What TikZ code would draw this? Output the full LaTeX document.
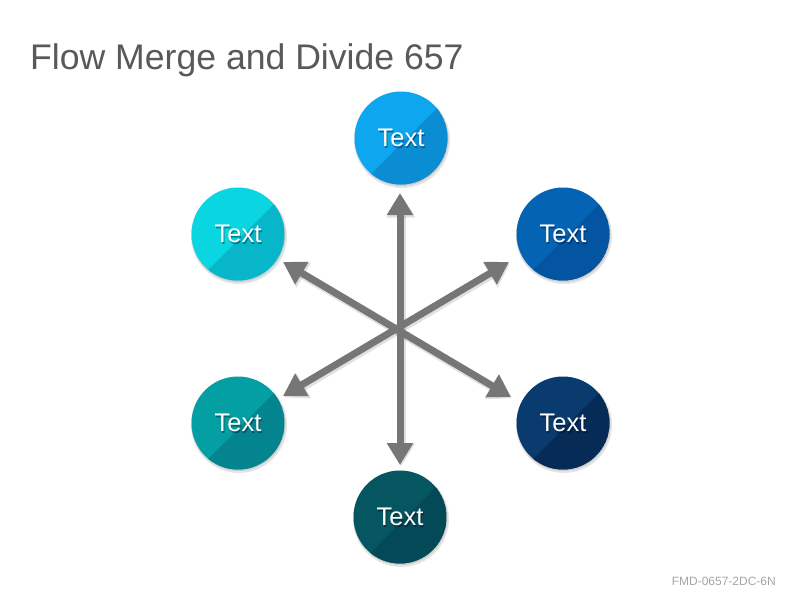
\documentclass[tikz,border=0pt]{standalone}
\usepackage{fontspec}
\setmainfont{Liberation Sans}
\usetikzlibrary{arrows.meta}
\definecolor{titlegray}{HTML}{595959}
\definecolor{footgray}{HTML}{A6A6A6}
\definecolor{arrgray}{HTML}{767676}
\definecolor{cAl}{HTML}{0EA6EE}\definecolor{cAd}{HTML}{0A8DD3}
\definecolor{cBl}{HTML}{0AD6E1}\definecolor{cBd}{HTML}{07B7C9}
\definecolor{cCl}{HTML}{0563B4}\definecolor{cCd}{HTML}{0455A1}
\definecolor{cDl}{HTML}{049FA2}\definecolor{cDd}{HTML}{03848E}
\definecolor{cEl}{HTML}{093B6F}\definecolor{cEd}{HTML}{062B57}
\definecolor{cFl}{HTML}{055661}\definecolor{cFd}{HTML}{044958}
\tikzset{
  arr/.style={draw=arrgray, line width=7pt, {Triangle[width=25pt,length=22pt]}-{Triangle[width=25pt,length=22pt]}},
  arrshadow/.style={draw=black, opacity=0.12, line width=9pt, {Triangle[width=27pt,length=23pt]}-{Triangle[width=27pt,length=23pt]}},
  ctext/.style={text=white, font=\fontsize{25.5}{28}\selectfont, inner sep=0pt},
  ctextshadow/.style={text=black, opacity=0.35, font=\fontsize{25.5}{28}\selectfont, inner sep=0pt},
}
\newcommand{\disc}[5]{% name, x, y, light, dark
  \fill[black, opacity=0.10] (#2+1,#3+2) circle (48);
  \fill[black, opacity=0.10] (#2+0.5,#3+1) circle (47);
  \begin{scope}
    \clip (#2,#3) circle (46.5);
    \fill[#4] (#2,#3) circle (46.5);
    \fill[#5] (#2-57,#3+63) -- (#2+63,#3-57) -- (#2+80,#3+80) -- cycle;
  \end{scope}
  \node[ctextshadow] at (#2+1,#3+1.5) {Text};
  \node[ctext] (#1) at (#2,#3) {Text};
}
\begin{document}
\begin{tikzpicture}[x=1pt,y=-1pt]
\useasboundingbox (0,0) rectangle (800,600);
\fill[white] (0,0) rectangle (800,600);
\node[anchor=base west, text=titlegray, font=\fontsize{35.6}{40}\selectfont, inner sep=0pt] (title) at (30,69) {Flow Merge and Divide 657};
\node[anchor=base east, text=footgray, font=\fontsize{12}{14}\selectfont, inner sep=0pt] (foot) at (776,585) {FMD-0657-2DC-6N};
% arrow tips
\coordinate (ta) at (400,193);
\coordinate (tf) at (400,465);
\coordinate (tb) at (283,262);
\coordinate (te) at (511,397);
\coordinate (tc) at (509,262);
\coordinate (td) at (283,396);
\coordinate (tas) at (401,194.5);
\coordinate (tfs) at (401,466.5);
\coordinate (tbs) at (284,263.5);
\coordinate (tes) at (512,398.5);
\coordinate (tcs) at (510,263.5);
\coordinate (tds) at (284,397.5);
\draw[arrshadow] (tas) -- (tfs);
\draw[arrshadow] (tbs) -- (tes);
\draw[arrshadow] (tcs) -- (tds);
\draw[arr] (ta) -- (tf);
\draw[arr] (tb) -- (te);
\draw[arr] (tc) -- (td);
% discs
\disc{nA}{401}{138}{cAl}{cAd}
\disc{nB}{238}{234}{cBl}{cBd}
\disc{nC}{563}{234}{cCl}{cCd}
\disc{nD}{238}{423}{cDl}{cDd}
\disc{nE}{563}{423}{cEl}{cEd}
\disc{nF}{400}{517}{cFl}{cFd}
\end{tikzpicture}
\end{document}
